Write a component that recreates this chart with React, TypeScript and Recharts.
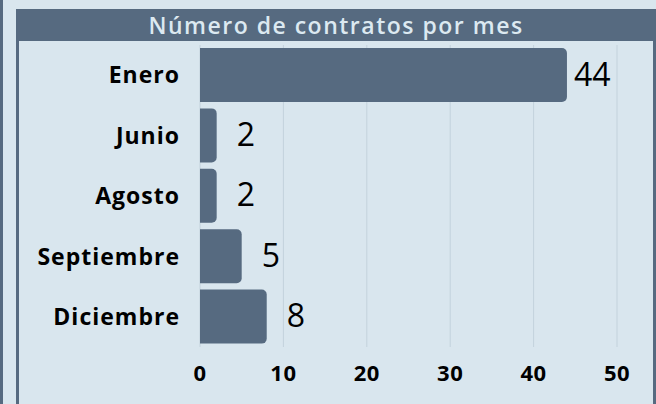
import { BarChart, Bar, XAxis, YAxis, CartesianGrid, LabelList } from "recharts";

const months = ["Enero", "Junio", "Agosto", "Septiembre", "Diciembre"];
const contracts = [44, 2, 2, 5, 8];
const xTicks = [0, 10, 20, 30, 40, 50];

const data = months.map((mes, i) => ({ mes, contratos: contracts[i] }));

const SLATE = "#566a80";
const BG = "#d9e6ee";
const FONT = "'Open Sans', sans-serif";
const PLOT_RIGHT = 617;

// value label to the right of the bar, pulled back inside if it would overflow
// eslint-disable-next-line @typescript-eslint/no-explicit-any
const ValueLabel = (props: any) => {
  const { x, y, width, height, value } = props;
  const end = x + width;
  const tooWide = end + 20 + 40 > PLOT_RIGHT;
  return (
    <text
      x={tooWide ? end + 7 : end + 20}
      y={y + height / 2 + 2}
      fill="#000"
      fontSize={32}
      fontFamily={FONT}
      dominantBaseline="middle"
      textAnchor="start"
    >
      {value}
    </text>
  );
};

export default function App() {
  return (
    <div
      style={{
        position: "fixed",
        top: 0,
        left: 0,
        width: 656,
        height: 404,
        background: BG,
        overflow: "hidden",
        fontFamily: FONT,
      }}
    >
      <div style={{ position: "absolute", left: 0, top: 0, width: 3, height: 404, background: SLATE }} />
      <div
        style={{
          position: "absolute",
          left: 16,
          top: 9,
          width: 634,
          height: 400,
          borderLeft: `3px solid ${SLATE}`,
          borderRight: `3px solid ${SLATE}`,
        }}
      />
      <div
        style={{
          position: "absolute",
          left: 16,
          top: 9,
          width: 640,
          height: 32,
          background: SLATE,
          color: "#dce9f1",
          fontWeight: 600,
          fontSize: 23,
          letterSpacing: 1.5,
          lineHeight: "32px",
          textAlign: "center",
        }}
      >
        Número de contratos por mes
      </div>
      <div style={{ position: "absolute", left: 0, top: 0 }}>
        <BarChart
          width={656}
          height={404}
          data={data}
          layout="vertical"
          margin={{ top: 45, right: 656 - PLOT_RIGHT, bottom: 17, left: 0 }}
          barCategoryGap={3}
        >
          <CartesianGrid horizontal={false} stroke="#c3d2dc" />
          <XAxis
            type="number"
            domain={[0, 50]}
            ticks={xTicks}
            axisLine={false}
            tickLine={false}
            tickSize={0}
            tickMargin={18}
            height={40}
            tick={{ fill: "#000", fontSize: 22, fontWeight: 700, fontFamily: FONT, letterSpacing: 0.5 }}
          />
          <YAxis
            type="category"
            dataKey="mes"
            width={200}
            axisLine={false}
            tickLine={false}
            tickSize={0}
            tickMargin={20}
            tick={{ fill: "#000", fontSize: 23, fontWeight: 700, fontFamily: FONT, letterSpacing: 1 }}
          />
          <Bar dataKey="contratos" fill={SLATE} radius={[0, 5, 5, 0]} isAnimationActive={false}>
            <LabelList dataKey="contratos" content={ValueLabel} />
          </Bar>
        </BarChart>
      </div>
    </div>
  );
}
